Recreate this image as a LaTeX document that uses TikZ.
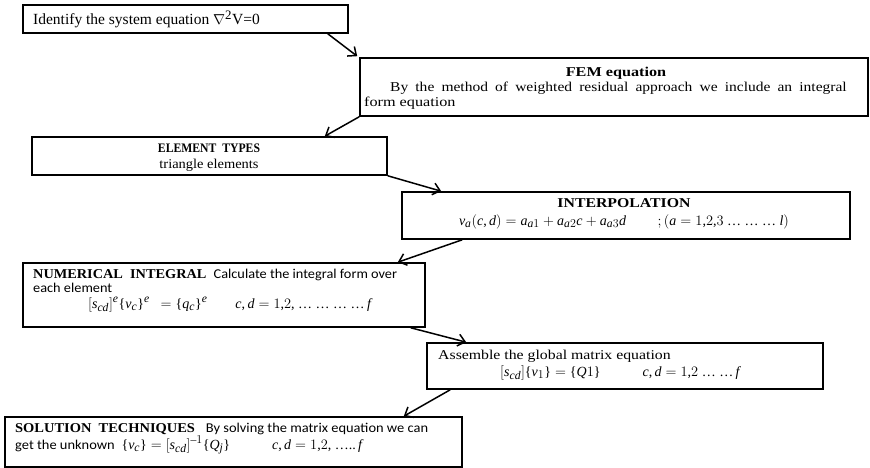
\documentclass[tikz,border=0pt]{standalone}
\usepackage{graphicx}
\usepackage{fontspec}
\setmainfont{Liberation Serif}
\newfontfamily\calibri{Carlito}
\usepackage[italic]{mathastext}
\usetikzlibrary{arrows.meta,fit}
\newcommand\hstretch[2]{\scalebox{#1}[1]{#2}}
\newcommand\myell{\mbox{\normalfont …}}
\begin{document}
\begin{tikzpicture}[x=1pt,y=-1pt,
  box/.style={draw, line width=1.6pt, inner sep=0pt},
  txt/.style={inner sep=0pt, anchor=base west, font=\fontsize{13.5}{15}\selectfont},
  ctxt/.style={inner sep=0pt, anchor=base, font=\fontsize{13.5}{15}\selectfont},
  mtxt/.style={inner sep=0pt, anchor=base west, font=\fontsize{14}{15}\selectfont},
  arr/.style={line width=1.5pt, -{Straight Barb[length=7pt,width=12pt,line width=1.5pt]}}]
\useasboundingbox (0,0) rectangle (870,468);
% box corners
\path (23,5) coordinate (p1a) (348,33) coordinate (p1b)
      (360,58) coordinate (p2a) (868,116) coordinate (p2b)
      (32,137) coordinate (p3a) (387,175) coordinate (p3b)
      (402,192) coordinate (p4a) (850,239) coordinate (p4b)
      (23,263) coordinate (p5a) (425,327) coordinate (p5b)
      (427,343) coordinate (p6a) (823,389) coordinate (p6b)
      (5,417) coordinate (p7a) (462,467) coordinate (p7b);
\node[box, fit=(p1a)(p1b)] (b1) {};
\node[box, fit=(p2a)(p2b)] (b2) {};
\node[box, fit=(p3a)(p3b)] (b3) {};
\node[box, fit=(p4a)(p4b)] (b4) {};
\node[box, fit=(p5a)(p5b)] (b5) {};
\node[box, fit=(p6a)(p6b)] (b6) {};
\node[box, fit=(p7a)(p7b)] (b7) {};
% texts
\node[txt, font=\fontsize{15.5}{17}\selectfont] (t1) at (33,25) {Identify the system equation \(\nabla\)\textsuperscript{2}V=0};
\node[ctxt] (t2a) at (616,77) {\hstretch{1.2}{\textbf{FEM equation}}};
\node[txt] (t2b) at (390,92) {\hstretch{1.15}{\makebox[397pt][s]{By the method of weighted residual approach we include an integral}}};
\node[txt] (t2c) at (364,107) {\hstretch{1.2}{form equation}};
\node[ctxt, font=\fontsize{13}{15}\selectfont] (t3a) at (209,153) {\hstretch{0.9}{\textbf{ELEMENT\ \ TYPES}}};
\node[ctxt] (t3b) at (209,168) {\hstretch{1.07}{triangle elements}};
\node[ctxt] (t4a) at (624,207) {\hstretch{1.17}{\textbf{INTERPOLATION}}};
\node[ctxt, font=\fontsize{14}{15}\selectfont] (t4b) at (624,225) {$v_a(c,d) = a_{a1} + a_{a2}c + a_{a3}d \qquad\ ;(a = 1{,}2{,}3\ \myell\ \myell\ \myell\ l)$};
\node[txt] (t5a) at (33,278) {\hstretch{1.06}{\textbf{NUMERICAL\ \ INTEGRAL}\ \ {\calibri Calculate the integral form over}}};
\node[txt] (t5b) at (33,292) {\hstretch{1.06}{\calibri each element}};
\node[mtxt] (t5c) at (88,308) {$[s_{cd}]^e\{v_c\}^e\ \ = \{q_c\}^e \qquad c,d = 1{,}2{,}\ \myell\ \myell\ \myell\ \myell\, f$};
\node[txt] (t6a) at (438,359) {\hstretch{1.17}{Assemble the global matrix equation}};
\node[mtxt] (t6b) at (500,376) {$[s_{cd}]\{v_1\} = \{Q1\} \qquad\quad c,d = 1{,}2\ \myell\ \myell\, f$};
\node[txt] (t7a) at (15,432) {\hstretch{1.07}{\textbf{SOLUTION\ \ TECHNIQUES}\ \ \ {\calibri By solving\ the matrix equation we can}}};
\node[txt] (t7b) at (15,449) {\hstretch{1.07}{\calibri get the unknown}\ \ {\fontsize{14}{15}\selectfont$\{v_c\} = [s_{cd}]^{-1}\{Q_j\} \qquad\quad c,d = 1{,}2{,}\ \myell..\,f$}};
% arrows
\draw[arr] ([xshift=-21pt]b1.south east) -- ([xshift=-2pt,yshift=1pt]b2.north west);
\draw[arr] (b2.south west) -- ([xshift=-63pt]b3.north east);
\draw[arr] (b3.south east) -- ([xshift=40pt]b4.north west);
\draw[arr] ([xshift=61pt]b4.south west) -- ([xshift=-28pt]b5.north east);
\draw[arr] ([xshift=-15pt]b5.south east) -- ([xshift=40pt]b6.north west);
\draw[arr] ([xshift=24pt]b6.south west) -- ([xshift=-59pt]b7.north east);
\end{tikzpicture}
\end{document}
